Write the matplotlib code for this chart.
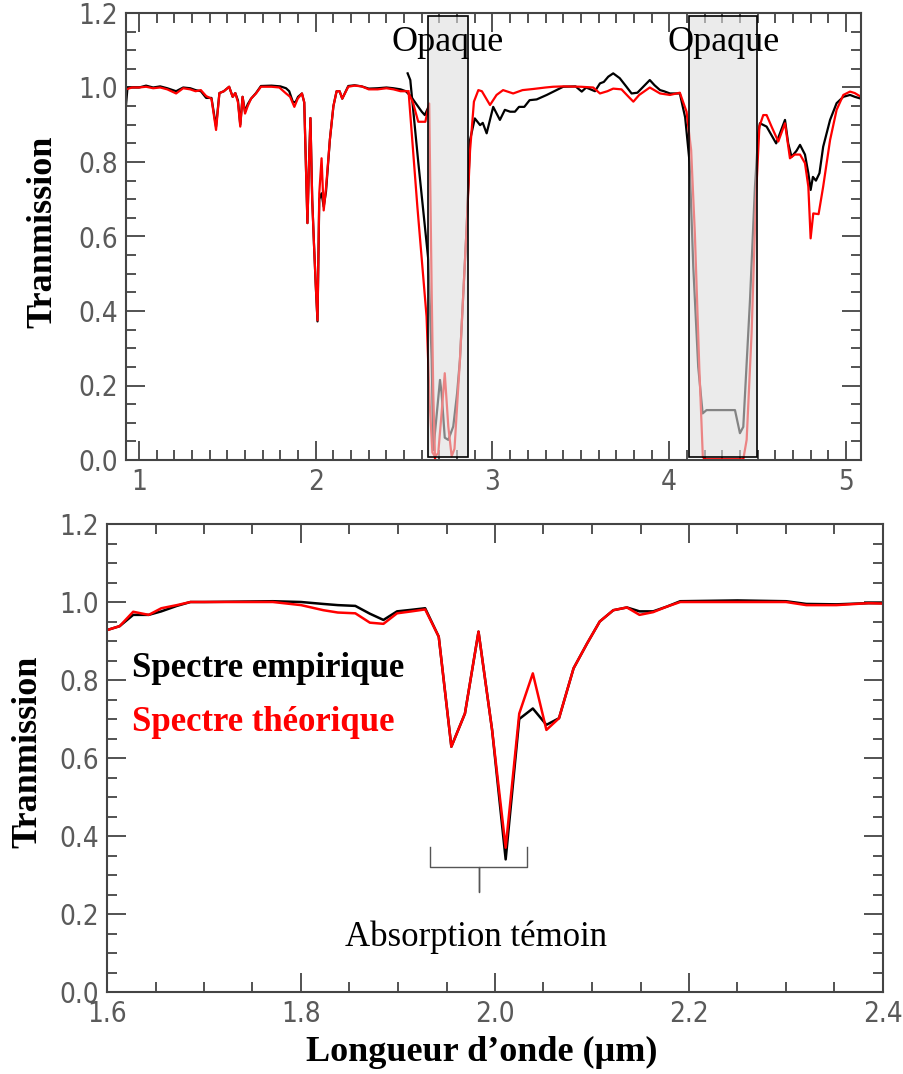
import matplotlib
matplotlib.use('Agg')
import matplotlib.pyplot as plt
from matplotlib.patches import Rectangle
from matplotlib.ticker import MultipleLocator, FormatStrFormatter

# ---- donnees : panneau du haut (1 - 5 um) ----
# spectre empirique, voie courte longueur d'onde
emp_a_x = [0.927, 0.935, 1.00, 1.04, 1.08, 1.12, 1.16, 1.21, 1.25, 1.29, 1.32, 1.35, 1.38, 1.41,
           1.436, 1.455, 1.48, 1.51, 1.53, 1.545, 1.56, 1.573, 1.586, 1.60, 1.615, 1.634, 1.662,
           1.69, 1.75, 1.80, 1.832, 1.85, 1.87, 1.885, 1.90, 1.922, 1.935, 1.945, 1.953, 1.962,
           1.97, 1.98, 1.99, 2.0, 2.01, 2.02, 2.033, 2.045, 2.058, 2.08, 2.10, 2.118, 2.135, 2.15,
           2.184, 2.22, 2.26, 2.30, 2.35, 2.40, 2.44, 2.48, 2.51, 2.54, 2.57, 2.60, 2.617, 2.635]
emp_a_y = [0.955, 1.0, 1.0, 1.005, 1.0, 1.003, 0.998, 0.99, 1.0, 0.998, 0.993, 0.99, 0.972, 0.972,
           0.895, 0.985, 0.99, 1.002, 0.975, 0.985, 0.965, 0.90, 0.975, 0.935, 0.955, 0.97, 0.985,
           1.004, 1.005, 1.003, 0.998, 0.99, 0.962, 0.96, 0.975, 0.984, 0.96, 0.78, 0.636, 0.80,
           0.918, 0.70, 0.58, 0.47, 0.372, 0.70, 0.716, 0.68, 0.72, 0.86, 0.95, 0.99, 0.99, 0.97,
           1.004, 1.006, 1.003, 0.997, 0.998, 1.0, 0.998, 0.995, 0.99, 0.975, 0.955, 0.935, 0.926, 0.945]

# spectre empirique, voie grande longueur d'onde
emp_b_x = [2.52, 2.535, 2.58, 2.637, 2.656, 2.665, 2.68, 2.703, 2.712, 2.73, 2.75, 2.778, 2.80,
           2.816, 2.854, 2.873, 2.90, 2.93, 2.945, 2.967, 3.004, 3.042, 3.07, 3.10, 3.127, 3.15,
           3.18, 3.21, 3.25, 3.307, 3.362, 3.40, 3.47, 3.505, 3.53, 3.58, 3.608, 3.63, 3.655,
           3.683, 3.72, 3.758, 3.787, 3.82, 3.853, 3.89, 3.917, 3.948, 3.97, 4.004, 4.06, 4.09,
           4.115, 4.136, 4.164, 4.189, 4.211, 4.372, 4.40, 4.419, 4.457, 4.485, 4.504, 4.513,
           4.551, 4.605, 4.655, 4.673, 4.692, 4.72, 4.74, 4.768, 4.787, 4.80, 4.813, 4.83, 4.85,
           4.871, 4.91, 4.947, 4.985, 5.023, 5.05, 5.085]
emp_b_y = [1.038, 1.02, 0.80, 0.537, 0.27, 0.027, 0.10, 0.215, 0.18, 0.06, 0.054, 0.09, 0.18,
           0.27, 0.626, 0.859, 0.917, 0.899, 0.905, 0.877, 0.948, 0.913, 0.94, 0.935, 0.935, 0.948,
           0.948, 0.966, 0.968, 0.98, 0.993, 1.002, 1.003, 0.989, 1.0, 0.99, 1.011, 1.015, 1.029,
           1.038, 1.025, 1.002, 0.984, 0.986, 1.002, 1.02, 1.006, 0.993, 0.99, 0.984, 0.984, 0.92,
           0.80, 0.519, 0.25, 0.125, 0.134, 0.134, 0.072, 0.089, 0.43, 0.734, 0.877, 0.904,
           0.895, 0.85, 0.913, 0.85, 0.814, 0.83, 0.846, 0.82, 0.77, 0.725, 0.76, 0.75, 0.77,
           0.841, 0.913, 0.958, 0.975, 0.98, 0.975, 0.97]

# spectre theorique, voie courte longueur d'onde
th_a_x = [0.927, 0.96, 1.00, 1.04, 1.08, 1.12, 1.16, 1.21, 1.25, 1.29, 1.32, 1.35, 1.38, 1.41,
          1.436, 1.455, 1.48, 1.51, 1.53, 1.545, 1.56, 1.573, 1.586, 1.60, 1.615, 1.634, 1.662,
          1.69, 1.75, 1.794, 1.832, 1.855, 1.879, 1.898, 1.922, 1.935, 1.945, 1.953, 1.962, 1.97,
          1.98, 1.99, 2.0, 2.01, 2.02, 2.033, 2.045, 2.058, 2.08, 2.10, 2.118, 2.135, 2.15, 2.184,
          2.22, 2.26, 2.30, 2.35, 2.40, 2.44, 2.48, 2.52, 2.55, 2.58, 2.62, 2.642, 2.656, 2.665, 2.675]
th_a_y = [0.995, 1.0, 1.0, 1.002, 0.998, 1.0, 0.995, 0.984, 0.998, 0.995, 0.99, 0.993, 0.977, 0.97,
          0.886, 0.985, 0.99, 1.002, 0.975, 0.985, 0.96, 0.895, 0.975, 0.93, 0.95, 0.97, 0.984,
          1.002, 1.002, 1.0, 0.984, 0.975, 0.948, 0.97, 0.984, 0.96, 0.78, 0.636, 0.80, 0.918,
          0.70, 0.58, 0.47, 0.375, 0.716, 0.81, 0.67, 0.73, 0.86, 0.95, 0.99, 0.99, 0.97, 1.002,
          1.005, 1.003, 0.995, 0.995, 0.998, 0.995, 0.99, 0.99, 0.96, 0.908, 0.908, 0.957, 0.45, 0.18, 0.0]

# spectre theorique, voie grande longueur d'onde
th_b_x = [2.525, 2.575, 2.627, 2.645, 2.66, 2.675, 2.693, 2.712, 2.73, 2.75, 2.769, 2.785, 2.816,
          2.854, 2.873, 2.895, 2.92, 2.94, 2.986, 3.023, 3.06, 3.117, 3.17, 3.23, 3.30, 3.343,
          3.40, 3.50, 3.57, 3.608, 3.65, 3.683, 3.73, 3.77, 3.797, 3.83, 3.89, 3.948, 4.004, 4.06,
          4.098, 4.124, 4.145, 4.17, 4.19, 4.20, 4.419, 4.438, 4.466, 4.49, 4.51, 4.532, 4.551,
          4.579, 4.617, 4.655, 4.683, 4.71, 4.74, 4.768, 4.787, 4.80, 4.815, 4.845, 4.871, 4.91,
          4.947, 4.985, 5.023, 5.05, 5.085]
th_b_y = [0.99, 0.68, 0.385, 0.15, 0.02, 0.01, 0.018, 0.125, 0.233, 0.09, 0.01, 0.03, 0.27,
          0.626, 0.83, 0.962, 0.993, 0.99, 0.953, 0.98, 0.993, 0.984, 0.993, 0.996, 1.0, 1.002,
          1.003, 1.002, 1.0, 0.984, 0.99, 0.997, 0.995, 0.975, 0.962, 0.98, 1.0, 0.984, 0.98, 0.986,
          0.935, 0.832, 0.608, 0.25, 0.009, 0.002, 0.002, 0.054, 0.34, 0.698, 0.895, 0.926, 0.926,
          0.895, 0.855, 0.904, 0.81, 0.82, 0.82, 0.797, 0.734, 0.595, 0.662, 0.66, 0.734, 0.859,
          0.94, 0.98, 0.989, 0.985, 0.975]

# bandes opaques (debut, fin en um)
opaque_bands = [(2.633, 2.864), (4.113, 4.497)]

# ---- donnees : panneau du bas (zoom 1.6 - 2.4 um) ----
zoom_x = [1.60, 1.613, 1.627, 1.643, 1.656, 1.672, 1.686, 1.70, 1.771, 1.80, 1.823, 1.838,
          1.856, 1.871, 1.885, 1.899, 1.914, 1.928, 1.942, 1.955, 1.969, 1.983, 1.997, 2.011,
          2.025, 2.039, 2.053, 2.066, 2.081, 2.095, 2.108, 2.122, 2.136, 2.149, 2.163, 2.177,
          2.191, 2.25, 2.30, 2.321, 2.352, 2.385, 2.40]
zoom_emp = [0.928, 0.938, 0.967, 0.967, 0.976, 0.99, 1.0, 1.0, 1.002, 1.0, 0.995, 0.992,
            0.99, 0.97, 0.954, 0.976, 0.98, 0.984, 0.911, 0.629, 0.714, 0.924, 0.672, 0.34,
            0.70, 0.727, 0.685, 0.702, 0.83, 0.894, 0.95, 0.979, 0.986, 0.976, 0.976, 0.988,
            1.002, 1.004, 1.002, 0.995, 0.994, 0.997, 0.997]
zoom_th = [0.928, 0.938, 0.975, 0.967, 0.984, 0.992, 1.0, 1.0, 1.0, 0.992, 0.979, 0.973,
           0.971, 0.947, 0.944, 0.971, 0.976, 0.981, 0.911, 0.629, 0.714, 0.924, 0.672, 0.37,
           0.714, 0.817, 0.672, 0.702, 0.83, 0.894, 0.95, 0.979, 0.986, 0.967, 0.974, 0.988,
           1.0, 1.0, 1.0, 0.992, 0.992, 0.997, 0.996]

# accolade "Absorption temoin" : x gauche, x pointe, x droite / y haut, y barre, y pointe
brace_x = [1.933, 1.984, 2.033]
brace_y = [0.373, 0.321, 0.257]

W, H = 904, 1074
fig = plt.figure(figsize=(W / 100, H / 100), dpi=100)

tick_font = ['DejaVu Sans']
serif = ['Liberation Serif', 'DejaVu Serif']
axis_col = '#444444'


def style_axes(ax):
    for s in ax.spines.values():
        s.set_color(axis_col)
        s.set_linewidth(1.5)
    ax.tick_params(which='both', direction='in', top=True, right=True,
                   colors=axis_col, width=1.3)
    ax.tick_params(which='major', length=14, labelsize=20, pad=6)
    ax.tick_params(which='minor', length=7)
    ax.yaxis.set_major_locator(MultipleLocator(0.2))
    ax.yaxis.set_minor_locator(MultipleLocator(0.05))
    ax.yaxis.set_major_formatter(FormatStrFormatter('%.1f'))
    for lab in ax.get_xticklabels() + ax.get_yticklabels():
        lab.set_family(tick_font)
        lab.set_stretch('condensed')
        lab.set_weight('light')
        lab.set_color('#5a5a5a')


# panneau du haut
ax1 = fig.add_axes([126 / W, 1 - 460 / H, 735 / W, 447 / H])
ax1.plot(emp_a_x, emp_a_y, color='black', lw=1.6)
ax1.plot(emp_b_x, emp_b_y, color='black', lw=1.6)
ax1.plot(th_a_x, th_a_y, color='red', lw=1.6)
ax1.plot(th_b_x, th_b_y, color='red', lw=1.6)
for x0, x1 in opaque_bands:
    # bande grisee posee par-dessus les courbes (elles restent visibles en transparence)
    ax1.add_patch(Rectangle((x0, 0.008), x1 - x0, 1.184, facecolor=(0.87, 0.87, 0.87, 0.6),
                            edgecolor='black', lw=1.2, zorder=3))
    ax1.text((x0 + x1) / 2, 1.12, 'Opaque', ha='center', va='center', fontsize=26,
             family=serif, zorder=4)
ax1.set_xlim(0.9265, 5.085)
ax1.set_ylim(0, 1.2)
ax1.xaxis.set_major_locator(MultipleLocator(1))
ax1.xaxis.set_minor_locator(MultipleLocator(0.1))
ax1.xaxis.set_major_formatter(FormatStrFormatter('%d'))
style_axes(ax1)

# panneau du bas
ax2 = fig.add_axes([107 / W, 1 - 992 / H, 776 / W, 468 / H])
ax2.plot(zoom_x, zoom_emp, color='black', lw=1.8)
ax2.plot(zoom_x, zoom_th, color='red', lw=1.8)
ax2.plot([brace_x[0], brace_x[0], brace_x[1], brace_x[1], brace_x[1], brace_x[2], brace_x[2]],
         [brace_y[0], brace_y[1], brace_y[1], brace_y[2], brace_y[1], brace_y[1], brace_y[0]],
         color='#555555', lw=1.0)
ax2.text(1.98, 0.14, 'Absorption témoin', ha='center', va='center', fontsize=25, family=serif)
ax2.text(1.626, 0.83, 'Spectre empirique', ha='left', va='center', fontsize=25,
         family=serif, weight='bold', color='black')
ax2.text(1.626, 0.69, 'Spectre théorique', ha='left', va='center', fontsize=25,
         family=serif, weight='bold', color='red')
ax2.set_xlim(1.6, 2.4)
ax2.set_ylim(0, 1.2)
ax2.xaxis.set_major_locator(MultipleLocator(0.2))
ax2.xaxis.set_minor_locator(MultipleLocator(0.05))
ax2.xaxis.set_major_formatter(FormatStrFormatter('%.1f'))
style_axes(ax2)

# titres d'axes
fig.text(43 / W, 1 - 232 / H, 'Tranmission', rotation=90, ha='center', va='center',
         fontsize=26, family=serif, weight='bold')
fig.text(28 / W, 1 - 752 / H, 'Tranmission', rotation=90, ha='center', va='center',
         fontsize=26, family=serif, weight='bold')
fig.text(482 / W, 1 - 1052 / H, 'Longueur d\u2019onde (\u00b5m)', ha='center', va='center',
         fontsize=26, family=serif, weight='bold')

fig.savefig('out.png', dpi=100)
